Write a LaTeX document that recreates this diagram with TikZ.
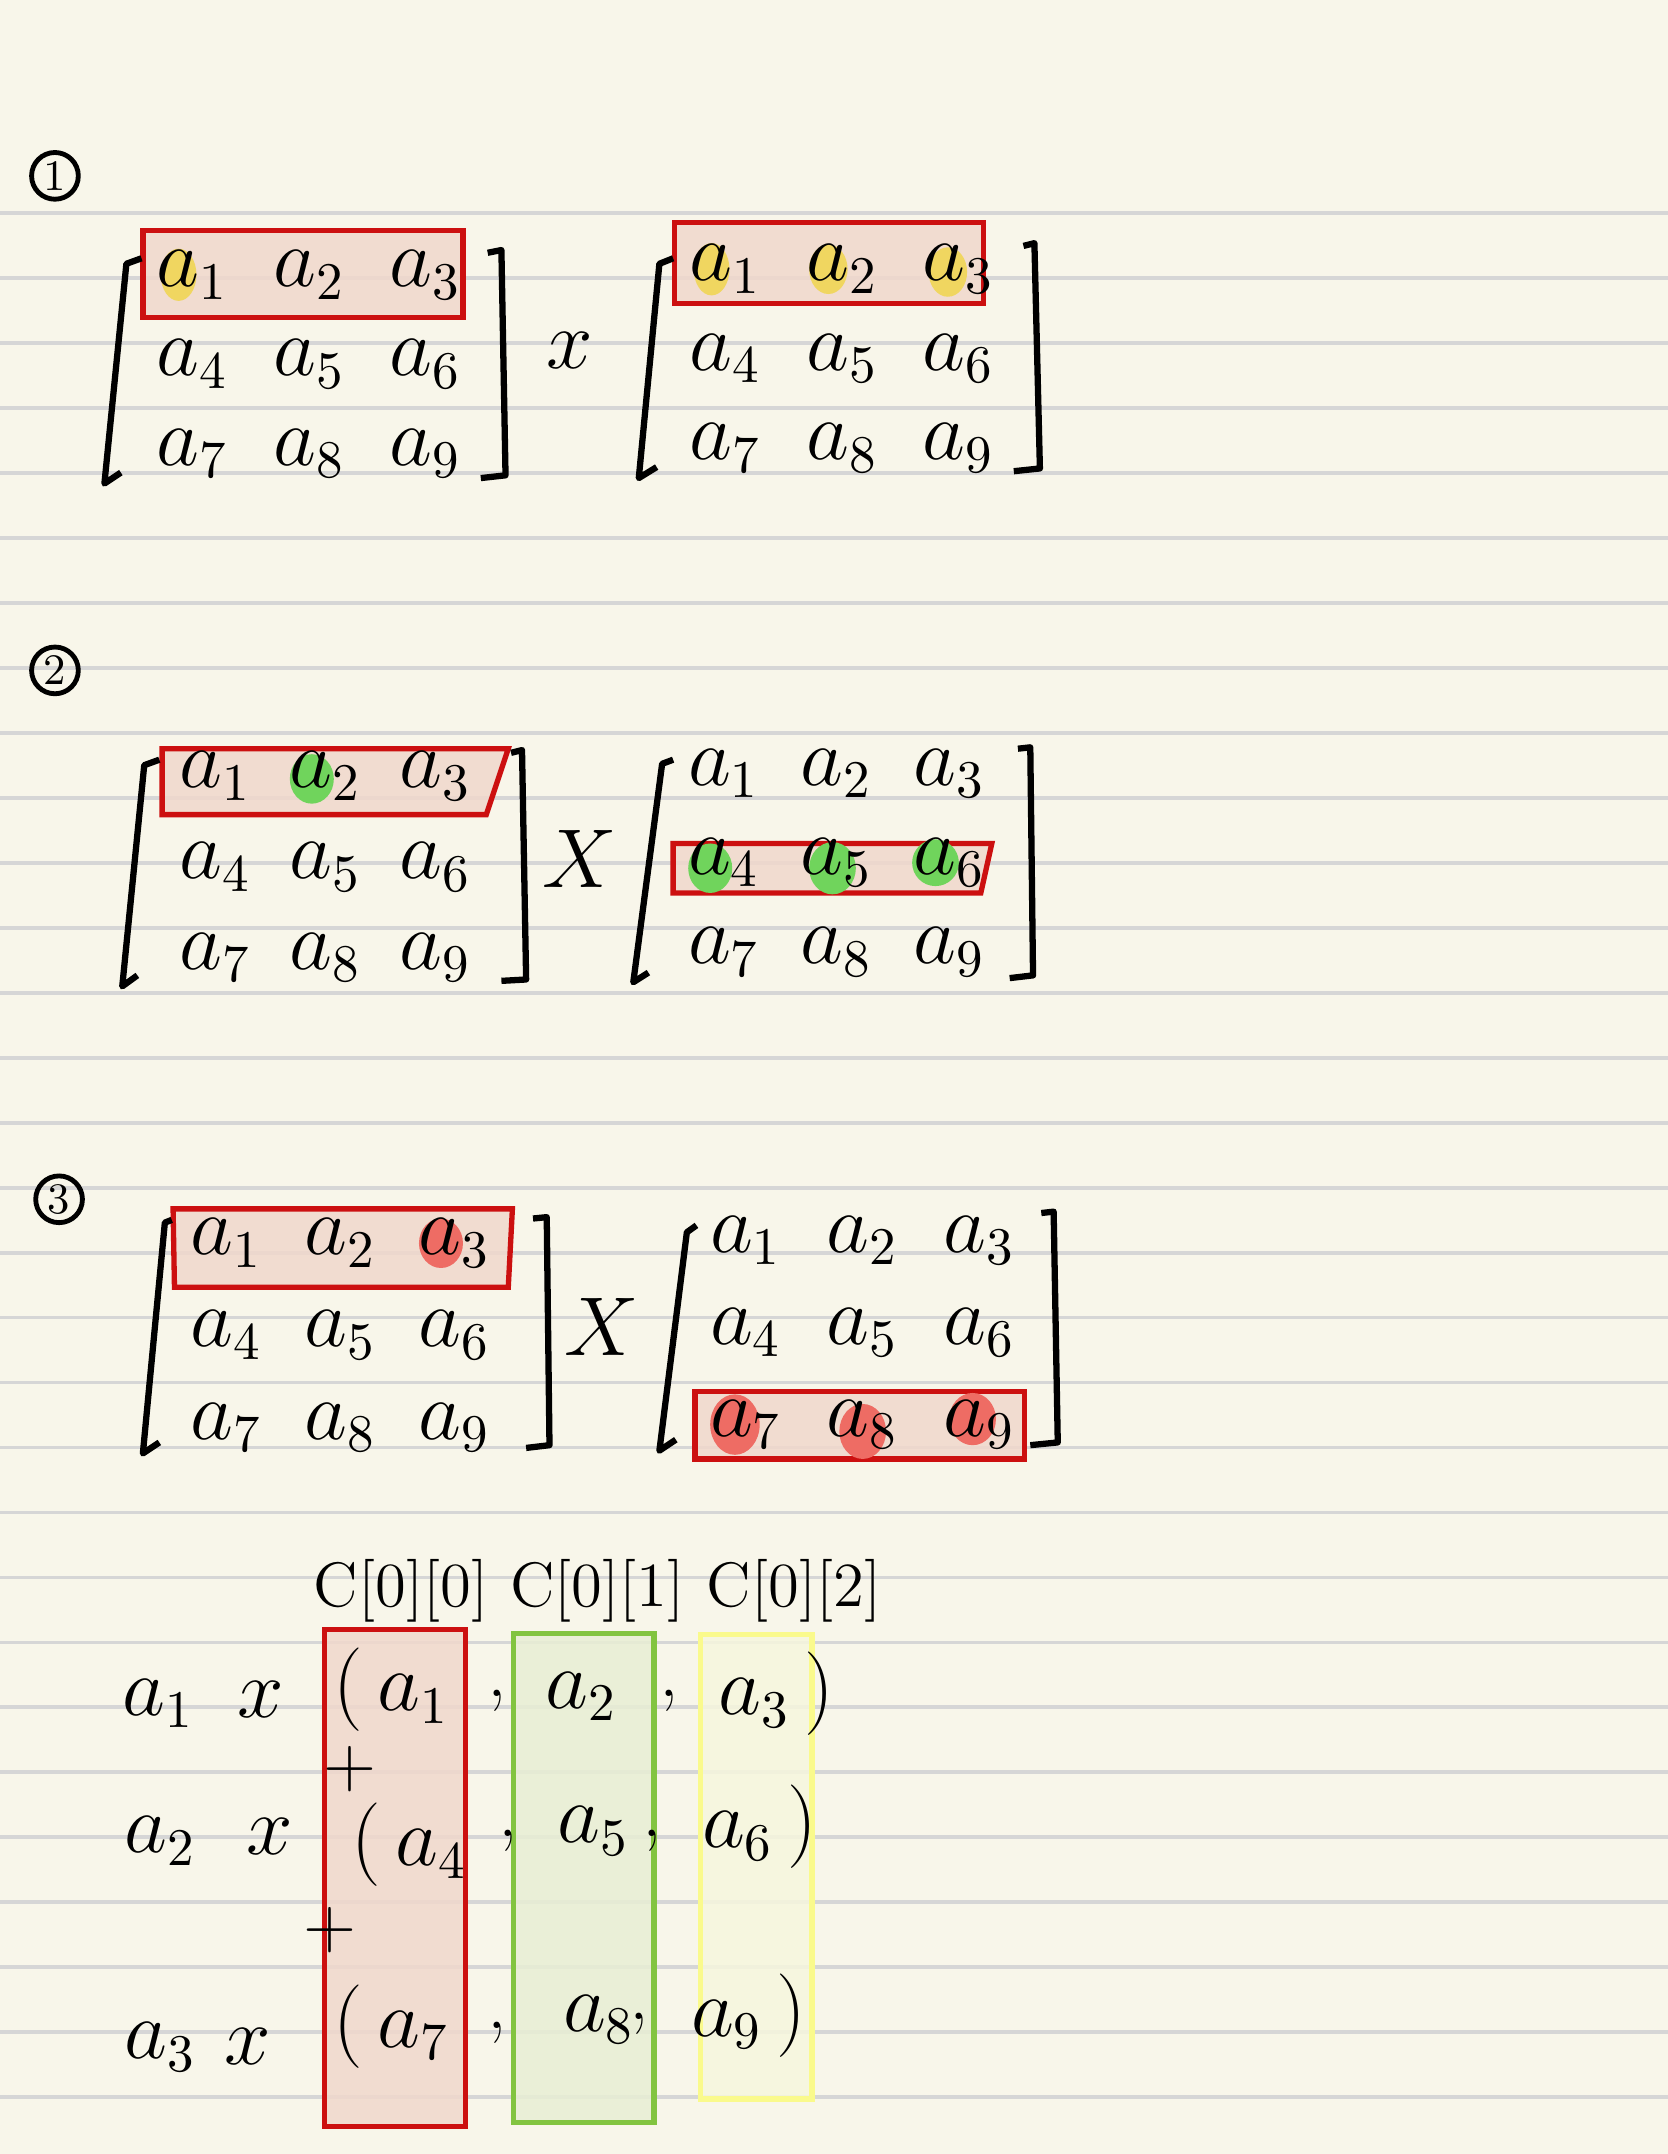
\documentclass[tikz,border=0pt]{standalone}
\usetikzlibrary{positioning}
\definecolor{paper}{RGB}{248,246,234}
\definecolor{rulegray}{RGB}{214,214,214}
\definecolor{boxred}{RGB}{204,16,16}
\definecolor{boxpink}{RGB}{240,216,204}
\definecolor{dotyellow}{RGB}{240,214,96}
\definecolor{dotgreen}{RGB}{112,212,92}
\definecolor{dotred}{RGB}{238,108,100}
\definecolor{colgreen}{RGB}{130,196,64}
\definecolor{colgreenfill}{RGB}{232,238,212}
\definecolor{colyellow}{RGB}{250,250,140}
\definecolor{colyellowfill}{RGB}{246,246,222}

\begin{document}
\begin{tikzpicture}
    [x=0.01cm, y=-0.01cm,
     every node/.style={font=\fontsize{16}{19}\selectfont, inner sep=1pt},
     ruling/.style={draw=rulegray, line width=0.8pt},
     bracket/.style={draw, line width=1.3pt, line join=round},
     rowbox/.style={draw=boxred, fill=boxpink, fill opacity=0.85, line width=1.1pt},
     colbox/.style={fill opacity=0.85, line width=1.1pt},
     num/.style={draw, circle, line width=1pt, minimum size=0.34cm, inner sep=0pt, font=\fontsize{9}{10}\selectfont},
     head/.style={font=\fontsize{13}{15}\selectfont},
     plus/.style={inner sep=0pt, font=\fontsize{14}{16}\selectfont}]

    % paper and ruled lines
    \fill[paper] (0,0) rectangle (1214,1568);
    \useasboundingbox (0,0) rectangle (1214,1568);
    \foreach \k in {0,...,29}
      \draw[ruling] (0,{155+47.3*\k}) -- (1214,{155+47.3*\k});

    % step 1
    \draw[rowbox] (104,168) rectangle (337,231);
    \draw[rowbox] (491,162) rectangle (716,221);
    \fill[dotyellow] (130,200) ellipse (0.13cm and 0.19cm);
    \fill[dotyellow] (518,196) ellipse (0.13cm and 0.19cm);
    \fill[dotyellow] (603,196) ellipse (0.14cm and 0.18cm);
    \fill[dotyellow] (690,198) ellipse (0.14cm and 0.18cm);

    % step 2
    \draw[rowbox] (118,545) -- (370,545) -- (354,593) -- (118,593) -- cycle;
    \draw[rowbox] (490,614) -- (722,614) -- (714,650) -- (490,650) -- cycle;
    \fill[dotgreen] (227,567) ellipse (0.16cm and 0.18cm);
    \fill[dotgreen] (517,632) ellipse (0.16cm and 0.18cm);
    \fill[dotgreen] (606,632) ellipse (0.17cm and 0.19cm);
    \fill[dotgreen] (681,628) ellipse (0.17cm and 0.17cm);

    % step 3
    \draw[rowbox] (126,880) -- (373,880) -- (370,937) -- (127,937) -- cycle;
    \draw[rowbox] (506,1013) rectangle (746,1062);
    \fill[dotred] (321,905) ellipse (0.16cm and 0.18cm);
    \fill[dotred] (535,1037) ellipse (0.18cm and 0.22cm);
    \fill[dotred] (628,1042) ellipse (0.17cm and 0.20cm);
    \fill[dotred] (708,1033) ellipse (0.17cm and 0.19cm);

    % matrix entries
    \foreach \m/\X/\Y/\dx/\dy in {oneL/140/200/85/65, oneR/528/196/85/65,
                                  twoL/157/565/80/66, twoR/527/563/82/65,
                                  threeL/165/905/83/67, threeR/543/903/85/67}
      \foreach \r in {0,1,2}
        \foreach \c in {0,1,2}
        {
          \pgfmathtruncatemacro{\n}{3*\r+\c+1}
          \node (\m\n) at ({\X+\dx*\c},{\Y+\dy*\r}) {$a_{\n}$};
        }

    % brackets
    \draw[bracket] (103,188) -- (92,192) -- (76,352) -- (88,344);
    \draw[bracket] (355,184) -- (365,182) -- (368,346) -- (350,348);
    \draw[bracket] (490,188) -- (480,192) -- (465,348) -- (478,340);
    \draw[bracket] (745,179) -- (753,177) -- (757,341) -- (738,343);
    \draw[bracket] (116,553) -- (105,557) -- (89,718) -- (100,710);
    \draw[bracket] (372,548) -- (380,546) -- (383,713) -- (365,714);
    \draw[bracket] (490,553) -- (482,556) -- (461,715) -- (472,708);
    \draw[bracket] (741,545) -- (750,544) -- (752,710) -- (735,712);
    \draw[bracket] (125,888) -- (120,890) -- (104,1058) -- (116,1050);
    \draw[bracket] (388,887) -- (398,886) -- (400,1052) -- (383,1054);
    \draw[bracket] (507,892) -- (500,897) -- (480,1056) -- (492,1048);
    \draw[bracket] (758,883) -- (767,882) -- (770,1050) -- (750,1052);

    % step numbers and signs
    \node (n1) [num] at (40,128) {1};
    \node (n2) [num] at (40,488) {2};
    \node (n3) [num] at (43,873) {3};
    \node (times1) at (415,255) {$x$};
    \node (times2) at (422,625) {$X$};
    \node (times3) at (438,966) {$X$};

    % result columns
    \draw[colbox, draw=boxred, fill=boxpink] (236,1186) rectangle (339,1548);
    \draw[colbox, draw=colgreen, fill=colgreenfill] (374,1189) rectangle (476,1545);
    \draw[colbox, draw=colyellow, fill=colyellowfill] (510,1190) rectangle (591,1528);

    \node (h0) [head] at (292,1158) {C[0][0]};
    \node (h1) [head] at (435,1158) {C[0][1]};
    \node (h2) [head] at (578,1158) {C[0][2]};

    \node (s1) at (115,1240) {$a_1$};
    \node (t1) at (190,1237) {$x$};
    \node (u1) at (285,1230) {$(\,a_1$};
    \node (c11) at (362,1238) {,};
    \node (v1) at (423,1235) {$a_2$};
    \node (c12) at (487,1238) {,};
    \node (w1) at (565,1233) {$a_3\,)$};
    \node (plus1) [plus] at (255,1288) {$+$};

    \node (s2) at (117,1340) {$a_2$};
    \node (t2) at (196,1337) {$x$};
    \node (u2) at (298,1343) {$(\,a_4$};
    \node (c21) at (370,1340) {,};
    \node (v2) at (432,1333) {$a_5$};
    \node (c22) at (475,1340) {,};
    \node (w2) at (553,1330) {$a_6\,)$};
    \node (plus2) [plus] at (240,1405) {$+$};

    \node (s3) at (117,1490) {$a_3$};
    \node (t3) at (180,1490) {$x$};
    \node (u3) at (285,1475) {$(\,a_7$};
    \node (c31) at (362,1480) {,};
    \node (v3) at (436,1470) {$a_8$};
    \node (c32) at (465,1473) {,};
    \node (w3) at (545,1467) {$a_9\,)$};

  \end{tikzpicture}
\end{document}
